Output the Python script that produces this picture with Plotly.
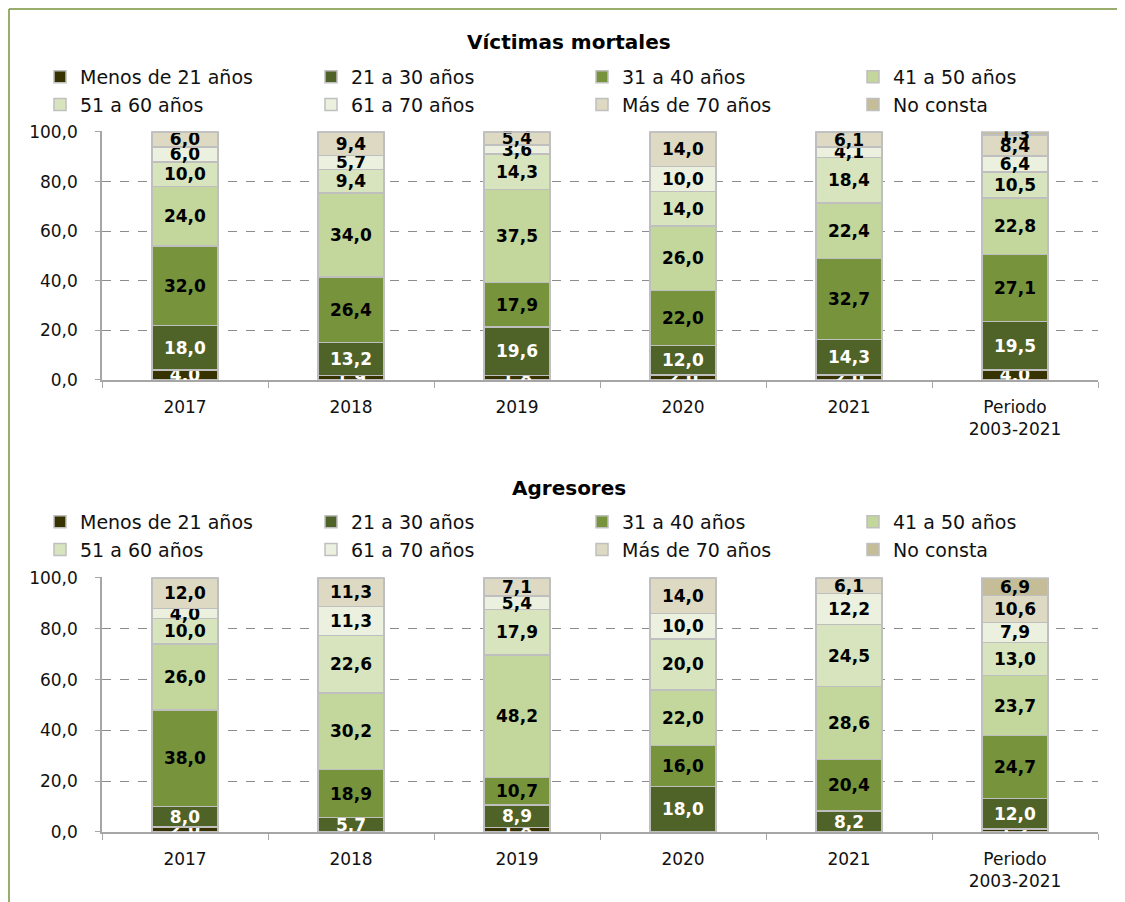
import plotly.graph_objects as go
from plotly.subplots import make_subplots

# categorías y series (porcentajes)
categorias = ["2017", "2018", "2019", "2020", "2021", "Periodo<br>2003-2021"]
grupos = ["Menos de 21 años", "21 a 30 años", "31 a 40 años", "41 a 50 años",
          "51 a 60 años", "61 a 70 años", "Más de 70 años", "No consta"]

# Víctimas mortales, un valor por categoría
vic_menos21 = [4.0, 1.9, 1.8, 2.0, 2.0, 4.0]
vic_21_30 = [18.0, 13.2, 19.6, 12.0, 14.3, 19.5]
vic_31_40 = [32.0, 26.4, 17.9, 22.0, 32.7, 27.1]
vic_41_50 = [24.0, 34.0, 37.5, 26.0, 22.4, 22.8]
vic_51_60 = [10.0, 9.4, 14.3, 14.0, 18.4, 10.5]
vic_61_70 = [6.0, 5.7, 3.6, 10.0, 4.1, 6.4]
vic_mas70 = [6.0, 9.4, 5.4, 14.0, 6.1, 8.4]
vic_nc = [0, 0, 0, 0, 0, 1.3]

# Agresores
agr_menos21 = [2.0, 0, 1.8, 0, 0, 1.2]
agr_21_30 = [8.0, 5.7, 8.9, 18.0, 8.2, 12.0]
agr_31_40 = [38.0, 18.9, 10.7, 16.0, 20.4, 24.7]
agr_41_50 = [26.0, 30.2, 48.2, 22.0, 28.6, 23.7]
agr_51_60 = [10.0, 22.6, 17.9, 20.0, 24.5, 13.0]
agr_61_70 = [4.0, 11.3, 5.4, 10.0, 12.2, 7.9]
agr_mas70 = [12.0, 11.3, 7.1, 14.0, 6.1, 10.6]
agr_nc = [0, 0, 0, 0, 0, 6.9]

victimas = [vic_menos21, vic_21_30, vic_31_40, vic_41_50, vic_51_60, vic_61_70, vic_mas70, vic_nc]
agresores = [agr_menos21, agr_21_30, agr_31_40, agr_41_50, agr_51_60, agr_61_70, agr_mas70, agr_nc]

colores = ["#363300", "#4f6228", "#77933c", "#c3d69b", "#d7e4bd", "#ebf1de", "#ddd9c3", "#c4bd97"]
color_texto = ["white", "white", "black", "black", "black", "black", "black", "black"]

FONT = "DejaVu Sans"
# la página deja 8 px de margen, así que la figura es algo menor que la ventana
OFF = 8
W, H = 1125 - OFF, 902 - OFF
YMAX = 100.3


def fmt(v):
    return "" if v == 0 else f"{v:.1f}".replace(".", ",")


def px(x):
    return (x - OFF) / W


def py(y):
    return 1 - (y - OFF) / H


def dom_y(y100, y0):
    # y100 / y0: píxeles de las líneas 100 y 0 en la referencia
    top = y0 - (y0 - y100) * YMAX / 100
    return [py(y0), py(top)]


fig = make_subplots(rows=2, cols=1)

for i, g in enumerate(grupos):
    for fila, datos, leg in [(1, victimas, "legend"), (2, agresores, "legend2")]:
        fig.add_trace(go.Bar(
            x=categorias, y=datos[i], name=g, legend=leg,
            marker=dict(color=colores[i], line=dict(color="#bfbfbf", width=1.5)),
            text=[fmt(v) for v in datos[i]], textposition="inside",
            insidetextanchor="middle", textangle=0, constraintext="none",
            textfont=dict(family=FONT, size=17, color=color_texto[i], weight="bold"),
            width=0.4,
        ), row=fila, col=1)

eje_y = dict(range=[0, YMAX], tickvals=[0, 20, 40, 60, 80, 100], tickformat=".1f", showgrid=True,
             gridcolor="#8c8c8c", griddash="dash", gridwidth=1.3,
             showline=True, linecolor="#a6a6a6", linewidth=1.5,
             ticks="outside", ticklen=5, tickcolor="#a6a6a6",
             ticklabelstandoff=14, tickfont=dict(family=FONT, size=17, color="#111"),
             automargin=False, zeroline=False)
eje_x = dict(showline=True, linecolor="#a6a6a6", linewidth=1.5, showgrid=False,
             tickson="boundaries", ticks="outside", ticklen=6, tickcolor="#a6a6a6",
             tickfont=dict(family=FONT, size=17, color="#111"), automargin=False,
             ticklabelstandoff=11, domain=[px(102), px(1098)])

fig.update_yaxes(**eje_y)
fig.update_xaxes(**eje_x)
fig.update_yaxes(domain=dom_y(132, 380), row=1, col=1)
fig.update_yaxes(domain=dom_y(578, 832), row=2, col=1)

leyenda = dict(orientation="h", entrywidth=226, entrywidthmode="pixels",
               font=dict(family=FONT, size=19, color="#111"), xanchor="left",
               yanchor="top", x=px(40), traceorder="normal", itemclick=False,
               bgcolor="rgba(0,0,0,0)")

fig.update_layout(
    width=W, height=H, barmode="stack", bargap=0.6,
    separators=",.",
    plot_bgcolor="white", paper_bgcolor="white",
    margin=dict(l=0, r=0, t=0, b=0),
    legend=dict(leyenda, y=py(58)),
    legend2=dict(leyenda, y=py(503)),
    annotations=[
        dict(text="<b>Víctimas mortales</b>", x=px(569), y=py(42), xref="paper", yref="paper",
             xanchor="center", yanchor="middle", showarrow=False,
             font=dict(family=FONT, size=20, color="black")),
        dict(text="<b>Agresores</b>", x=px(569), y=py(488), xref="paper", yref="paper",
             xanchor="center", yanchor="middle", showarrow=False,
             font=dict(family=FONT, size=20, color="black")),
    ],
    shapes=[
        dict(type="line", xref="paper", yref="paper", x0=px(9), x1=px(1125), y0=py(9), y1=py(9),
             line=dict(color="#77933c", width=1.5)),
        dict(type="line", xref="paper", yref="paper", x0=px(9), x1=px(9), y0=py(9), y1=py(902),
             line=dict(color="#77933c", width=1.5)),
    ],
)

fig.write_html("out.html")
